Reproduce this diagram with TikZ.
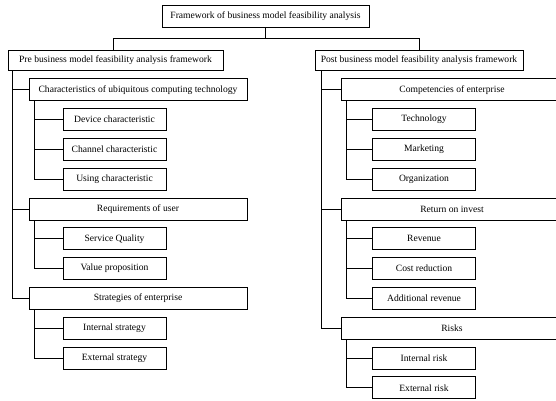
\documentclass[tikz,border=0pt]{standalone}
\usepackage{fontspec}
\setmainfont{Liberation Serif}
\usetikzlibrary{positioning}

\begin{document}
\begin{tikzpicture}[
	x=1pt, y=-1pt,
	box/.style={rectangle, draw, line width=0.9pt, inner sep=0pt, minimum height=22pt, font=\fontsize{9.6}{11}\selectfont},
	head/.style={box, minimum height=20pt},
	group/.style={box, minimum width=218pt},
	rgroup/.style={box, minimum width=222pt, xshift=3pt},
	leaf/.style={box, minimum width=103pt},
	link/.style={line width=0.9pt}
]
\useasboundingbox (0,0) rectangle (556,400);

\node[box, minimum width=207pt] (top) at (265.5,16) {Framework of business model feasibility analysis};
\node[head, minimum width=215pt] (pre) at (115.5,60) {Pre business model feasibility analysis framework};
\node[head, minimum width=208pt] (post) at (419,60) {Post business model feasibility analysis framework};

% pre side
\node[group] (chars) at (138,89.8) {Characteristics of ubiquitous computing technology};
\node[leaf] (dev) at (114.5,119.6) {Device characteristic};
\node[leaf] (chan) at (114.5,149.4) {Channel characteristic};
\node[leaf] (usage) at (114.5,179.2) {Using characteristic};
\node[group] (req) at (138,209) {Requirements of user};
\node[leaf] (qual) at (114.5,238.8) {Service Quality};
\node[leaf] (value) at (114.5,268.6) {Value proposition};
\node[group] (strat) at (138,298.4) {Strategies of enterprise};
\node[leaf] (instr) at (114.5,328.2) {Internal strategy};
\node[leaf] (exstr) at (114.5,358) {External strategy};

% post side
\node[rgroup] (comp) at (449,89.8) {Competencies of enterprise};
\node[leaf] (tech) at (424,119.6) {Technology};
\node[leaf] (mark) at (424,149.4) {Marketing};
\node[leaf] (org) at (424,179.2) {Organization};
\node[rgroup] (roi) at (449,209) {Return on invest};
\node[leaf] (rev) at (424,238.8) {Revenue};
\node[leaf] (cost) at (424,268.6) {Cost reduction};
\node[leaf] (addrev) at (424,298.4) {Additional revenue};
\node[rgroup] (risk) at (449,328.2) {Risks};
\node[leaf] (inrisk) at (424,358) {Internal risk};
\node[leaf] (exrisk) at (424,387.8) {External risk};

\draw[link] (top.south) -- ++(0,11) coordinate (split);
\draw[link] (split) -| ([xshift=-2pt]pre.north);
\draw[link] (split) -| (post.north);

\draw[link] ([xshift=5pt]pre.south west) |- (chars.west);
\draw[link] ([xshift=5pt]pre.south west) |- (req.west);
\draw[link] ([xshift=5pt]pre.south west) |- (strat.west);

\draw[link] ([xshift=6pt]chars.south west) |- (dev.west);
\draw[link] ([xshift=6pt]chars.south west) |- (chan.west);
\draw[link] ([xshift=6pt]chars.south west) |- (usage.west);
\draw[link] ([xshift=6pt]req.south west) |- (qual.west);
\draw[link] ([xshift=6pt]req.south west) |- (value.west);
\draw[link] ([xshift=6pt]strat.south west) |- (instr.west);
\draw[link] ([xshift=6pt]strat.south west) |- (exstr.west);

\draw[link] ([xshift=7pt]post.south west) |- (comp.west);
\draw[link] ([xshift=7pt]post.south west) |- (roi.west);
\draw[link] ([xshift=7pt]post.south west) |- (risk.west);

\draw[link] ([xshift=6pt]comp.south west) |- (tech.west);
\draw[link] ([xshift=6pt]comp.south west) |- (mark.west);
\draw[link] ([xshift=6pt]comp.south west) |- (org.west);
\draw[link] ([xshift=6pt]roi.south west) |- (rev.west);
\draw[link] ([xshift=6pt]roi.south west) |- (cost.west);
\draw[link] ([xshift=6pt]roi.south west) |- (addrev.west);
\draw[link] ([xshift=6pt]risk.south west) |- (inrisk.west);
\draw[link] ([xshift=6pt]risk.south west) |- (exrisk.west);

\end{tikzpicture}
\end{document}
